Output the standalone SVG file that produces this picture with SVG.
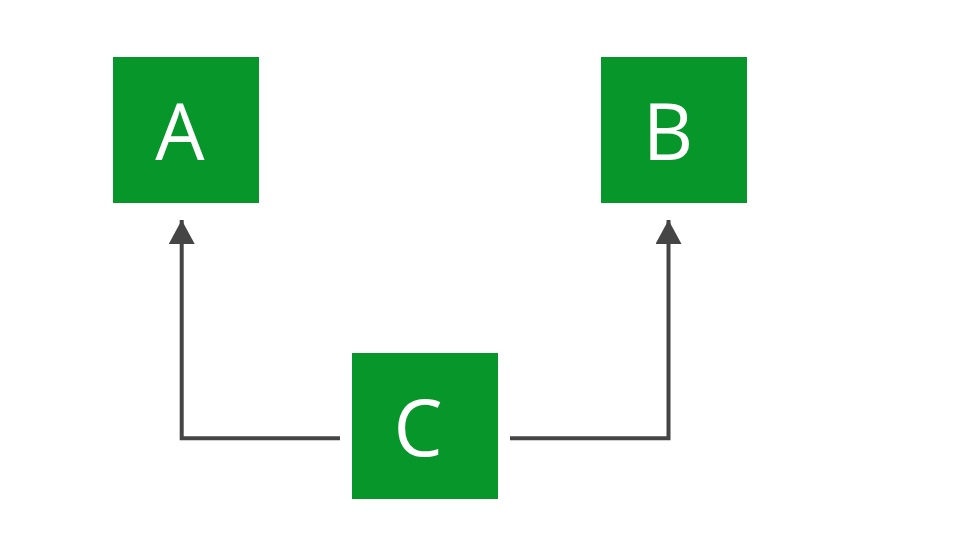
<svg xmlns="http://www.w3.org/2000/svg" width="960" height="540" viewBox="0 0 960 540">
<style>
.box{fill:#07962a}
.lbl{fill:#ffffff;font-family:"Open Sans","Noto Sans",sans-serif;font-size:78px;text-anchor:middle}
.conn{fill:none;stroke:#454545;stroke-width:4}
</style>
<defs>
<marker id="arr" markerUnits="userSpaceOnUse" markerWidth="28" markerHeight="26" refX="24" refY="13" orient="auto">
<path d="M0,0 L24,13 L0,26 Z" fill="#454545"/>
</marker>
</defs>
<rect width="960" height="540" fill="#ffffff"/>
<g id="connectors">
<path class="conn" d="M340,438.3 H181.7 V220" marker-end="url(#arr)"/>
<path class="conn" d="M510,438.3 H668.5 V220" marker-end="url(#arr)"/>
</g>
<g id="node-A">
<rect class="box" x="113" y="57" width="146" height="146"/>
<text class="lbl" x="180" y="160">A</text>
</g>
<g id="node-B">
<rect class="box" x="601" y="57" width="146" height="146"/>
<text class="lbl" x="668" y="160">B</text>
</g>
<g id="node-C">
<rect class="box" x="352" y="353" width="146" height="146"/>
<text class="lbl" x="418" y="456">C</text>
</g>
</svg>
